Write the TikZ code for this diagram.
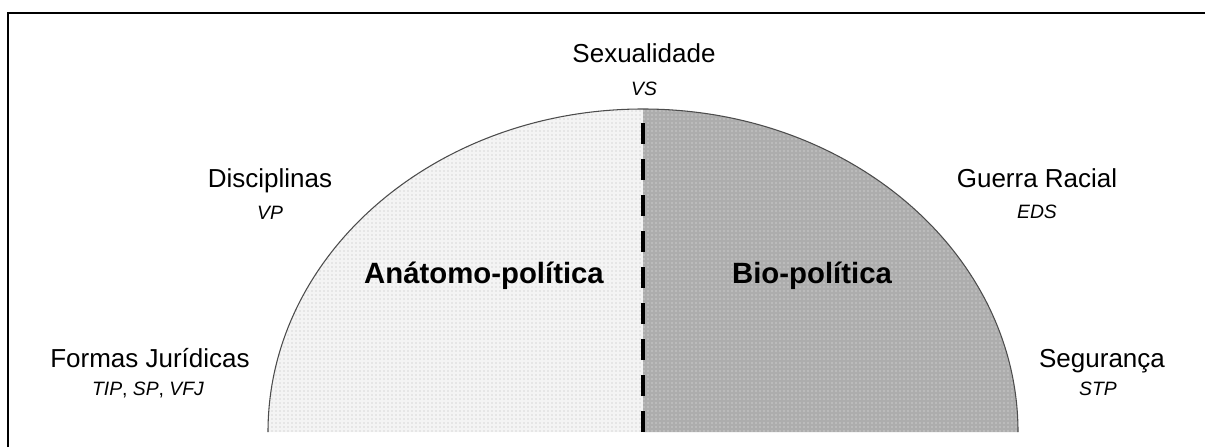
\documentclass[tikz,border=0pt]{standalone}
\usepackage{fontspec}
\setmainfont{Liberation Sans}
\usetikzlibrary{positioning, patterns}

\tikzset{
  topic/.style={font=\fontsize{19.5}{22}\selectfont, anchor=base},
  refs/.style={font=\fontsize{14.5}{16}\selectfont, anchor=base},
  field/.style={font=\fontsize{22}{26}\selectfont\bfseries, anchor=base},
  cut/.style={line width=3pt, dash pattern=on 16pt off 11pt},
}

\begin{document}
\begin{tikzpicture}[x=0.75pt, y=0.75pt]
  \useasboundingbox (0,0) rectangle (1205,447);

  % moldura
  \draw[line width=2pt] (8,0) -- (8,434) -- (1205,434);

  % semi-elipse: metade esquerda clara, metade direita escura
  \coordinate (base) at (643,15);
  \coordinate (topo) at (643,338);
  \fill[gray!9] (base) -- (268,15) arc[start angle=180, end angle=90, x radius=281.25pt, y radius=242.25pt] -- cycle;
  \fill[pattern=dots, pattern color=gray!55] (base) -- (268,15) arc[start angle=180, end angle=90, x radius=281.25pt, y radius=242.25pt] -- cycle;
  \fill[gray!64] (base) -- (1018,15) arc[start angle=0, end angle=90, x radius=281.25pt, y radius=242.25pt] -- cycle;
  \fill[pattern=dots, pattern color=white!85!gray] (base) -- (1018,15) arc[start angle=0, end angle=90, x radius=281.25pt, y radius=242.25pt] -- cycle;
  \draw[gray!60!black, line width=0.8pt] (268,15) arc[start angle=180, end angle=0, x radius=281.25pt, y radius=242.25pt];

  % divisao
  \draw[cut] (base) -- (topo);

  % campos
  \node[field] (anatomo) at (484,164) {Anátomo-política};
  \node[field] (bio) at (812,164) {Bio-política};

  % temas e obras
  \node[topic] (sexualidade) at (644,384) {Sexualidade};
  \node[refs] (vs) at (644,351) {\textit{VS}};
  \node[topic] (disciplinas) at (270,260) {Disciplinas};
  \node[refs] (vp) at (270,228) {\textit{VP}};
  \node[topic] (formas) at (150,80) {Formas Jurídicas};
  \node[refs] (tip) at (148,52) {\textit{TIP}, \textit{SP}, \textit{VFJ}};
  \node[topic] (guerra) at (1037,260) {Guerra Racial};
  \node[refs] (eds) at (1037,229) {\textit{EDS}};
  \node[topic] (seguranca) at (1102,80) {Segurança};
  \node[refs] (stp) at (1098,52) {\textit{STP}};
\end{tikzpicture}
\end{document}
